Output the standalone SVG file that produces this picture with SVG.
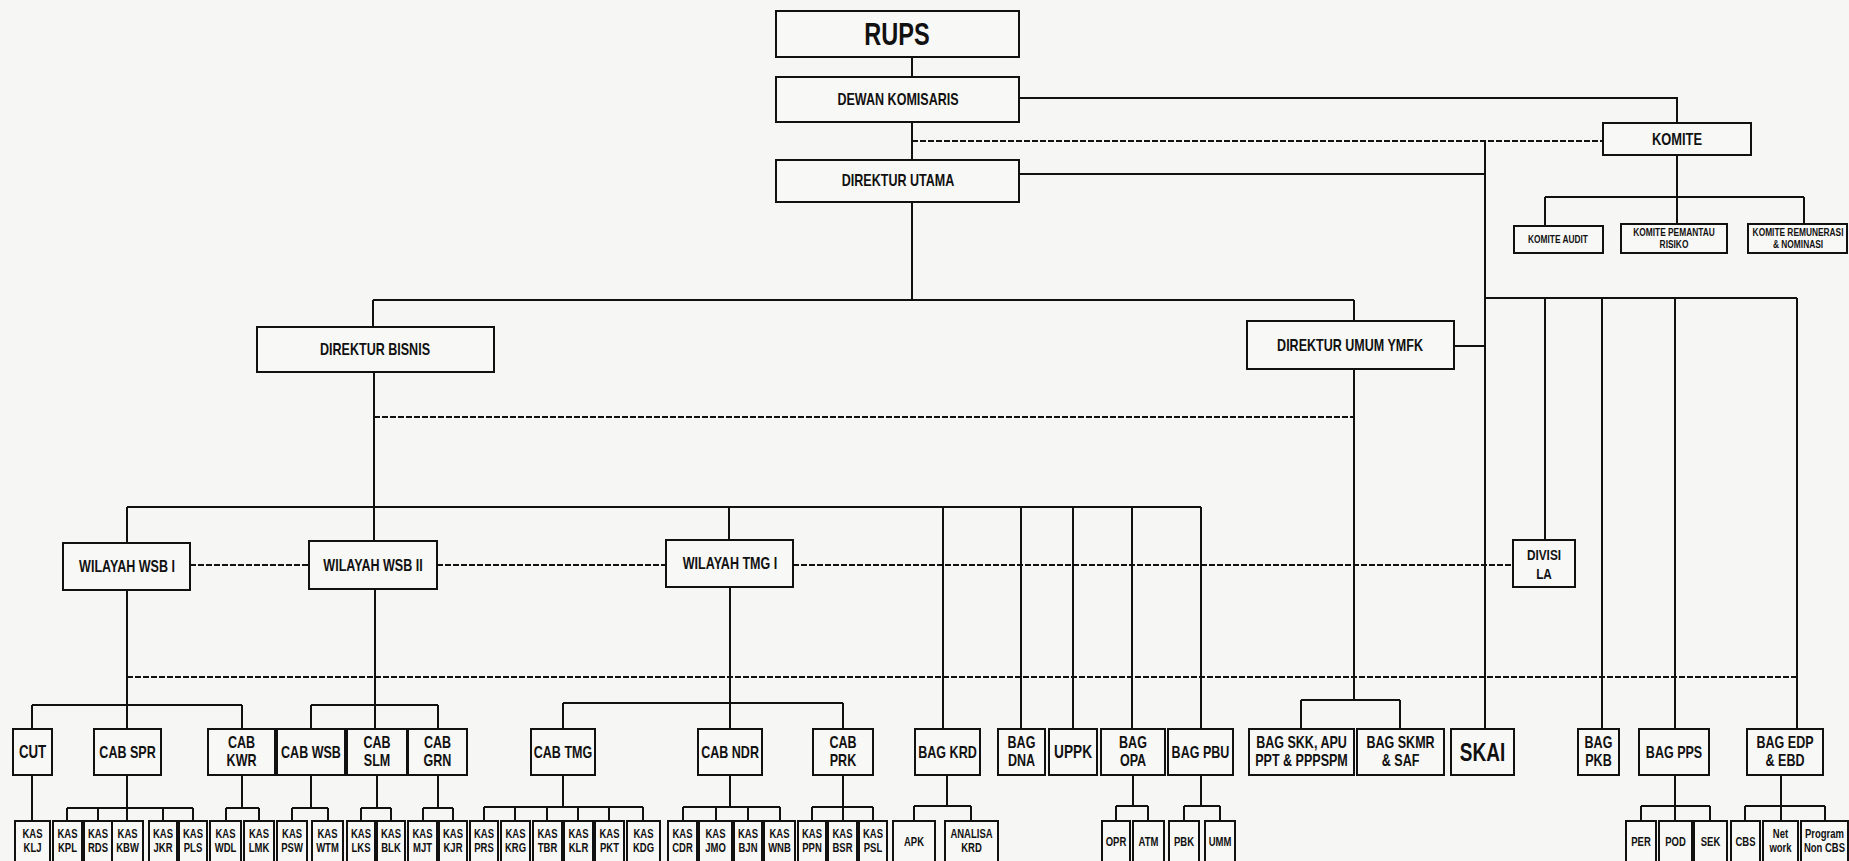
<svg xmlns="http://www.w3.org/2000/svg" width="1849" height="861" viewBox="0 0 1849 861">
<style>
.b{fill:#f8f8f6;stroke:#111;stroke-width:2}
.t{font-family:"Liberation Sans",Arial,sans-serif;font-weight:bold;text-anchor:middle;fill:#111;transform-box:fill-box;transform-origin:center;transform:scaleX(.76)}
.c{fill:none;stroke:#111;stroke-width:2}
.d{fill:none;stroke:#111;stroke-width:2;stroke-dasharray:6 2}
.m{font-size:16.5px}
.r{font-size:16.5px}
.k{font-size:12.5px}
.s{font-size:11px}
</style>
<rect width="1849" height="861" fill="#f6f6f4"/>
<g id="connectors">
<path class="c" d="M912 57V77M912 123V160M912 202V300M373 300H1354M373 300V327M1354 300V321M1019 98H1677V123M1019 174H1485M1485 141V729M1454 346H1485M1677 155V197M1545 197H1804M1545 197V226M1677 197V224M1804 197V224M1485 298H1797M1545 298V540M1602 298V729M1675 298V729M1797 298V729M374 372V541M1354 369V700M1301 700H1400M1301 700V729M1400 700V729M127 507H1201M127 507V543M729 507V540M943 507V729M1021 507V729M1073 507V729M1132 507V729M1201 507V729M127 590V729M32 705H242M32 705V729M242 705V729M375 589V705M311 705H438M311 705V729M438 705V729M375 705V729M730 587V703M563 703H843M563 703V729M843 703V729M730 703V729"/>
<path class="c" d="M32 775V821M127 775V808M67 808H193M67 808V821M98 808V821M127 808V821M163 808V821M193 808V821M242 775V808M226 808H259M226 808V821M259 808V821M311 775V808M292 808H328M292 808V821M328 808V821M377 775V808M361 808H391M361 808V821M391 808V821M438 775V808M423 808H453M423 808V821M453 808V821M563 775V807M484 807H643M484 807V821M515 807V821M547 807V821M578 807V821M609 807V821M643 807V821M730 775V807M683 807H780M683 807V821M716 807V821M748 807V821M780 807V821M843 775V807M812 807H873M812 807V821M843 807V821M873 807V821M947 775V806M914 806H971M914 806V821M971 806V821M1133 775V806M1116 806H1148M1116 806V821M1148 806V821M1201 775V806M1184 806H1220M1184 806V821M1220 806V821M1675 775V806M1641 806H1710M1641 806V821M1675 806V821M1710 806V821M1781 775V821M1745 806H1825M1745 806V821M1825 806V821"/>
<path class="d" d="M912 141H1603M374 417H1354M190 565H309M437 565H666M793 565H1513M127 677H1797"/>
</g>
<g id="rups"><rect class="b" x="776" y="11" width="243" height="46"/><text class="t" x="897" y="45" style="font-size:31px">RUPS</text></g>
<g id="dewan-komisaris"><rect class="b" x="776" y="77" width="243" height="45"/><text class="t m" x="898" y="105.5">DEWAN KOMISARIS</text></g>
<g id="direktur-utama"><rect class="b" x="776" y="160" width="243" height="42"/><text class="t m" x="898" y="186">DIREKTUR UTAMA</text></g>
<g id="komite"><rect class="b" x="1603" y="123" width="148" height="32"/><text class="t" x="1677" y="145" style="font-size:17px">KOMITE</text></g>
<g id="komite-audit"><rect class="b" x="1514" y="226" width="89" height="27"/><text class="t s" x="1558" y="243.5">KOMITE AUDIT</text></g>
<g id="komite-pemantau"><rect class="b" x="1621" y="224" width="106" height="29"/><text class="t s"><tspan x="1674" y="236">KOMITE PEMANTAU</tspan><tspan x="1674" y="248.5">RISIKO</tspan></text></g>
<g id="komite-remunerasi"><rect class="b" x="1748" y="224" width="99" height="29"/><text class="t s"><tspan x="1798" y="236">KOMITE REMUNERASI</tspan><tspan x="1798" y="248.5">&amp; NOMINASI</tspan></text></g>
<g id="direktur-bisnis"><rect class="b" x="257" y="327" width="237" height="45"/><text class="t m" x="375" y="355">DIREKTUR BISNIS</text></g>
<g id="direktur-umum"><rect class="b" x="1247" y="321" width="207" height="48"/><text class="t m" x="1350" y="351">DIREKTUR UMUM YMFK</text></g>
<g id="wilayah-wsb-1"><rect class="b" x="63" y="543" width="127" height="47"/><text class="t m" x="127" y="572">WILAYAH WSB I</text></g>
<g id="wilayah-wsb-2"><rect class="b" x="309" y="541" width="128" height="48"/><text class="t m" x="373" y="571">WILAYAH WSB II</text></g>
<g id="wilayah-tmg-1"><rect class="b" x="666" y="540" width="127" height="47"/><text class="t m" x="730" y="569">WILAYAH TMG I</text></g>
<g id="divisi-la"><rect class="b" x="1513" y="540" width="62" height="47"/><text class="t" style="font-size:15.5px"><tspan x="1544" y="560">DIVISI</tspan><tspan x="1544" y="579">LA</tspan></text></g>
<g id="cut"><rect class="b" x="13" y="729" width="39" height="46"/><text class="t" x="32.5" y="758" style="font-size:17.5px">CUT</text></g>
<g id="cab-spr"><rect class="b" x="94" y="729" width="67" height="46"/><text class="t r" x="127.5" y="758">CAB SPR</text></g>
<g id="cab-kwr"><rect class="b" x="208" y="729" width="67" height="46"/><text class="t r"><tspan x="241.5" y="748">CAB</tspan><tspan x="241.5" y="766">KWR</tspan></text></g>
<g id="cab-wsb"><rect class="b" x="277" y="729" width="68" height="46"/><text class="t r" x="311" y="758">CAB WSB</text></g>
<g id="cab-slm"><rect class="b" x="347" y="729" width="60" height="46"/><text class="t r"><tspan x="377" y="748">CAB</tspan><tspan x="377" y="766">SLM</tspan></text></g>
<g id="cab-grn"><rect class="b" x="408" y="729" width="59" height="46"/><text class="t r"><tspan x="437.5" y="748">CAB</tspan><tspan x="437.5" y="766">GRN</tspan></text></g>
<g id="cab-tmg"><rect class="b" x="531" y="729" width="64" height="46"/><text class="t r" x="563" y="758">CAB TMG</text></g>
<g id="cab-ndr"><rect class="b" x="698" y="729" width="64" height="46"/><text class="t r" x="730" y="758">CAB NDR</text></g>
<g id="cab-prk"><rect class="b" x="813" y="729" width="60" height="46"/><text class="t r"><tspan x="843" y="748">CAB</tspan><tspan x="843" y="766">PRK</tspan></text></g>
<g id="bag-krd"><rect class="b" x="915" y="729" width="65" height="46"/><text class="t r" x="947.5" y="758">BAG KRD</text></g>
<g id="bag-dna"><rect class="b" x="998" y="729" width="47" height="46"/><text class="t r"><tspan x="1021.5" y="748">BAG</tspan><tspan x="1021.5" y="766">DNA</tspan></text></g>
<g id="uppk"><rect class="b" x="1049" y="729" width="48" height="46"/><text class="t" x="1073" y="758.5" style="font-size:18px">UPPK</text></g>
<g id="bag-opa"><rect class="b" x="1101" y="729" width="64" height="46"/><text class="t r"><tspan x="1133" y="748">BAG</tspan><tspan x="1133" y="766">OPA</tspan></text></g>
<g id="bag-pbu"><rect class="b" x="1168" y="729" width="65" height="46"/><text class="t r" x="1200.5" y="758">BAG PBU</text></g>
<g id="bag-skk"><rect class="b" x="1249" y="729" width="105" height="46"/><text class="t r"><tspan x="1301.5" y="748">BAG SKK, APU</tspan><tspan x="1301.5" y="766">PPT &amp; PPPSPM</tspan></text></g>
<g id="bag-skmr"><rect class="b" x="1357" y="729" width="87" height="46"/><text class="t r"><tspan x="1400.5" y="748">BAG SKMR</tspan><tspan x="1400.5" y="766">&amp; SAF</tspan></text></g>
<g id="skai"><rect class="b" x="1451" y="729" width="63" height="46"/><text class="t" x="1482.5" y="761" style="font-size:25px">SKAI</text></g>
<g id="bag-pkb"><rect class="b" x="1578" y="729" width="41" height="46"/><text class="t r"><tspan x="1598.5" y="748">BAG</tspan><tspan x="1598.5" y="766">PKB</tspan></text></g>
<g id="bag-pps"><rect class="b" x="1639" y="729" width="70" height="46"/><text class="t r" x="1674" y="758">BAG PPS</text></g>
<g id="bag-edp"><rect class="b" x="1747" y="729" width="76" height="46"/><text class="t r"><tspan x="1785" y="748">BAG EDP</tspan><tspan x="1785" y="766">&amp; EBD</tspan></text></g>
<g id="kas-klj"><rect class="b" x="15" y="821" width="35" height="46"/><text class="t k"><tspan x="32.5" y="838.5">KAS</tspan><tspan x="32.5" y="852">KLJ</tspan></text></g>
<g id="kas-kpl"><rect class="b" x="53" y="821" width="29" height="46"/><text class="t k"><tspan x="67.5" y="838.5">KAS</tspan><tspan x="67.5" y="852">KPL</tspan></text></g>
<g id="kas-rds"><rect class="b" x="84" y="821" width="28" height="46"/><text class="t k"><tspan x="98" y="838.5">KAS</tspan><tspan x="98" y="852">RDS</tspan></text></g>
<g id="kas-kbw"><rect class="b" x="112" y="821" width="31" height="46"/><text class="t k"><tspan x="127.5" y="838.5">KAS</tspan><tspan x="127.5" y="852">KBW</tspan></text></g>
<g id="kas-jkr"><rect class="b" x="149" y="821" width="28" height="46"/><text class="t k"><tspan x="163" y="838.5">KAS</tspan><tspan x="163" y="852">JKR</tspan></text></g>
<g id="kas-pls"><rect class="b" x="179" y="821" width="28" height="46"/><text class="t k"><tspan x="193" y="838.5">KAS</tspan><tspan x="193" y="852">PLS</tspan></text></g>
<g id="kas-wdl"><rect class="b" x="210" y="821" width="31" height="46"/><text class="t k"><tspan x="225.5" y="838.5">KAS</tspan><tspan x="225.5" y="852">WDL</tspan></text></g>
<g id="kas-lmk"><rect class="b" x="244" y="821" width="30" height="46"/><text class="t k"><tspan x="259" y="838.5">KAS</tspan><tspan x="259" y="852">LMK</tspan></text></g>
<g id="kas-psw"><rect class="b" x="277" y="821" width="30" height="46"/><text class="t k"><tspan x="292" y="838.5">KAS</tspan><tspan x="292" y="852">PSW</tspan></text></g>
<g id="kas-wtm"><rect class="b" x="312" y="821" width="31" height="46"/><text class="t k"><tspan x="327.5" y="838.5">KAS</tspan><tspan x="327.5" y="852">WTM</tspan></text></g>
<g id="kas-lks"><rect class="b" x="347" y="821" width="28" height="46"/><text class="t k"><tspan x="361" y="838.5">KAS</tspan><tspan x="361" y="852">LKS</tspan></text></g>
<g id="kas-blk"><rect class="b" x="377" y="821" width="28" height="46"/><text class="t k"><tspan x="391" y="838.5">KAS</tspan><tspan x="391" y="852">BLK</tspan></text></g>
<g id="kas-mjt"><rect class="b" x="408" y="821" width="29" height="46"/><text class="t k"><tspan x="422.5" y="838.5">KAS</tspan><tspan x="422.5" y="852">MJT</tspan></text></g>
<g id="kas-kjr"><rect class="b" x="439" y="821" width="28" height="46"/><text class="t k"><tspan x="453" y="838.5">KAS</tspan><tspan x="453" y="852">KJR</tspan></text></g>
<g id="kas-prs"><rect class="b" x="470" y="821" width="28" height="46"/><text class="t k"><tspan x="484" y="838.5">KAS</tspan><tspan x="484" y="852">PRS</tspan></text></g>
<g id="kas-krg"><rect class="b" x="501" y="821" width="29" height="46"/><text class="t k"><tspan x="515.5" y="838.5">KAS</tspan><tspan x="515.5" y="852">KRG</tspan></text></g>
<g id="kas-tbr"><rect class="b" x="533" y="821" width="29" height="46"/><text class="t k"><tspan x="547.5" y="838.5">KAS</tspan><tspan x="547.5" y="852">TBR</tspan></text></g>
<g id="kas-klr"><rect class="b" x="564" y="821" width="29" height="46"/><text class="t k"><tspan x="578.5" y="838.5">KAS</tspan><tspan x="578.5" y="852">KLR</tspan></text></g>
<g id="kas-pkt"><rect class="b" x="595" y="821" width="29" height="46"/><text class="t k"><tspan x="609.5" y="838.5">KAS</tspan><tspan x="609.5" y="852">PKT</tspan></text></g>
<g id="kas-kdg"><rect class="b" x="627" y="821" width="33" height="46"/><text class="t k"><tspan x="643.5" y="838.5">KAS</tspan><tspan x="643.5" y="852">KDG</tspan></text></g>
<g id="kas-cdr"><rect class="b" x="668" y="821" width="29" height="46"/><text class="t k"><tspan x="682.5" y="838.5">KAS</tspan><tspan x="682.5" y="852">CDR</tspan></text></g>
<g id="kas-jmo"><rect class="b" x="699" y="821" width="33" height="46"/><text class="t k"><tspan x="715.5" y="838.5">KAS</tspan><tspan x="715.5" y="852">JMO</tspan></text></g>
<g id="kas-bjn"><rect class="b" x="734" y="821" width="28" height="46"/><text class="t k"><tspan x="748" y="838.5">KAS</tspan><tspan x="748" y="852">BJN</tspan></text></g>
<g id="kas-wnb"><rect class="b" x="764" y="821" width="31" height="46"/><text class="t k"><tspan x="779.5" y="838.5">KAS</tspan><tspan x="779.5" y="852">WNB</tspan></text></g>
<g id="kas-ppn"><rect class="b" x="798" y="821" width="28" height="46"/><text class="t k"><tspan x="812" y="838.5">KAS</tspan><tspan x="812" y="852">PPN</tspan></text></g>
<g id="kas-bsr"><rect class="b" x="828" y="821" width="29" height="46"/><text class="t k"><tspan x="842.5" y="838.5">KAS</tspan><tspan x="842.5" y="852">BSR</tspan></text></g>
<g id="kas-psl"><rect class="b" x="859" y="821" width="28" height="46"/><text class="t k"><tspan x="873" y="838.5">KAS</tspan><tspan x="873" y="852">PSL</tspan></text></g>
<g id="apk"><rect class="b" x="893" y="821" width="42" height="46"/><text class="t k" x="914" y="846">APK</text></g>
<g id="analisa-krd"><rect class="b" x="945" y="821" width="53" height="46"/><text class="t k"><tspan x="971.5" y="838.5">ANALISA</tspan><tspan x="971.5" y="852">KRD</tspan></text></g>
<g id="opr"><rect class="b" x="1102" y="821" width="28" height="46"/><text class="t k" x="1116" y="846">OPR</text></g>
<g id="atm"><rect class="b" x="1133" y="821" width="31" height="46"/><text class="t k" x="1148.5" y="846">ATM</text></g>
<g id="pbk"><rect class="b" x="1169" y="821" width="30" height="46"/><text class="t k" x="1184" y="846">PBK</text></g>
<g id="umm"><rect class="b" x="1205" y="821" width="30" height="46"/><text class="t k" x="1220" y="846">UMM</text></g>
<g id="per"><rect class="b" x="1626" y="821" width="30" height="46"/><text class="t k" x="1641" y="846">PER</text></g>
<g id="pod"><rect class="b" x="1659" y="821" width="33" height="46"/><text class="t k" x="1675.5" y="846">POD</text></g>
<g id="sek"><rect class="b" x="1694" y="821" width="33" height="46"/><text class="t k" x="1710.5" y="846">SEK</text></g>
<g id="cbs"><rect class="b" x="1731" y="821" width="29" height="46"/><text class="t k" x="1745.5" y="846">CBS</text></g>
<g id="network"><rect class="b" x="1763" y="821" width="35" height="46"/><text class="t k"><tspan x="1780.5" y="838.5">Net</tspan><tspan x="1780.5" y="852">work</tspan></text></g>
<g id="program-non-cbs"><rect class="b" x="1801" y="821" width="47" height="46"/><text class="t k"><tspan x="1824.5" y="838.5">Program</tspan><tspan x="1824.5" y="852">Non CBS</tspan></text></g>
</svg>
